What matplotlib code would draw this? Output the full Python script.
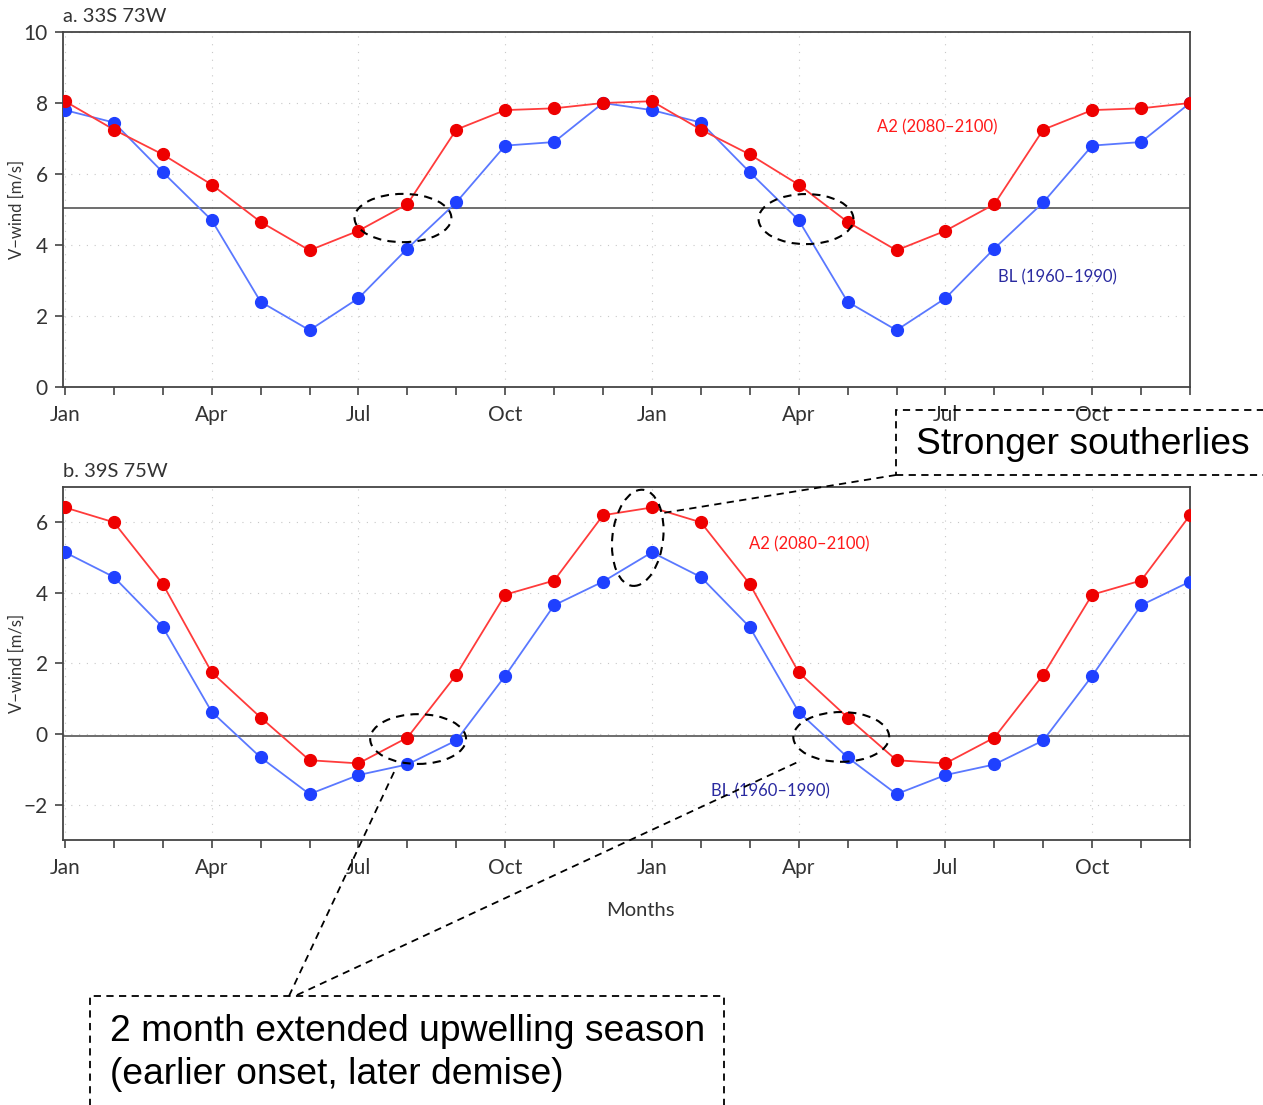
import numpy as np
import matplotlib
matplotlib.use("Agg")
import matplotlib.pyplot as plt
from matplotlib.patches import Ellipse, Rectangle
from matplotlib.lines import Line2D

W, H = 1263, 1105
plt.rcParams['font.family'] = ['Lato', 'DejaVu Sans']

months = np.arange(24)
tick_pos = [0, 3, 6, 9, 12, 15, 18, 21]
tick_lab = ["Jan", "Apr", "Jul", "Oct", "Jan", "Apr", "Jul", "Oct"]

# panel a: 33S 73W (one year, shown twice)
a2_a = [8.05, 7.25, 6.55, 5.7, 4.65, 3.85, 4.4, 5.15, 7.25, 7.8, 7.85, 8.0]
bl_a = [7.8, 7.45, 6.05, 4.7, 2.4, 1.6, 2.5, 3.9, 5.2, 6.8, 6.9, 8.0]
ref_a = 5.05
# panel b: 39S 75W
a2_b = [6.42, 6.0, 4.25, 1.75, 0.47, -0.74, -0.83, -0.1, 1.68, 3.95, 4.35, 6.2]
bl_b = [5.15, 4.45, 3.03, 0.63, -0.66, -1.7, -1.16, -0.86, -0.18, 1.65, 3.65, 4.32]
ref_b = -0.05

RED_L, RED_M = "#ff3b3b", "#ee0000"
BLU_L, BLU_M = "#5a78ff", "#1f40ff"
TXT = "#333333"


def px(x, y):
    return x / W, 1 - y / H


fig = plt.figure(figsize=(W / 100, H / 100), dpi=100)
ax_a = fig.add_axes([63 / W, 1 - 387 / H, 1127 / W, 355 / H])
ax_b = fig.add_axes([63 / W, 1 - 840 / H, 1127 / W, 353 / H])

for ax, a2, bl, ref, ylim, yt, title in [
        (ax_a, a2_a, bl_a, ref_a, (0, 10), [0, 2, 4, 6, 8, 10], "a. 33S 73W"),
        (ax_b, a2_b, bl_b, ref_b, (-3, 7), [-2, 0, 2, 4, 6], "b. 39S 75W")]:
    ax.grid(True, ls=(0, (1, 6)), color="#c8c8c8", lw=0.8)
    ax.axhline(ref, color="#555555", lw=1.2, zorder=2)
    ax.plot(months, bl * 2, color=BLU_L, lw=1.3, zorder=3)
    ax.plot(months, bl * 2, "o", color=BLU_M, ms=8.5, zorder=4)
    ax.plot(months, a2 * 2, color=RED_L, lw=1.3, zorder=3)
    ax.plot(months, a2 * 2, "o", color=RED_M, ms=8.5, zorder=4)
    ax.set_xlim(-0.04, 23)
    ax.set_ylim(*ylim)
    ax.set_yticks(yt)
    ax.set_yticklabels([str(v).replace("-", "\u2212") for v in yt])
    ax.set_xticks(months, minor=True)
    ax.set_xticks(tick_pos)
    ax.set_xticklabels(tick_lab)
    ax.tick_params(which="both", direction="out", length=6, width=1.2,
                   color="#444444", labelsize=15, labelcolor=TXT)
    ax.tick_params(axis="x", pad=7)
    ax.tick_params(axis="y", labelsize=15, pad=5)
    for s in ax.spines.values():
        s.set_color("#444444")
        s.set_linewidth(1.3)
    ax.set_ylabel("V\u2212wind [m/s]", fontsize=12, color=TXT)
    ax.yaxis.set_label_coords(-0.034, 0.5)
    ax.text(0.0, 1.02, title, transform=ax.transAxes, fontsize=14.5,
            color=TXT, ha="left", va="bottom")

ax_a.text(17.83, 7.3, "A2 (2080\u20132100)", color="#ff1a1a", fontsize=12,
          ha="center", va="center")
ax_a.text(20.3, 3.1, "BL (1960\u20131990)", color="#2a2aa0", fontsize=12,
          ha="center", va="center")
ax_b.text(15.21, 5.38, "A2 (2080\u20132100)", color="#ff1a1a", fontsize=12,
          ha="center", va="center")
ax_b.text(14.42, -1.63, "BL (1960\u20131990)", color="#2a2aa0", fontsize=12,
          ha="center", va="center")
fig.text(*px(640, 910), "Months", fontsize=14.5, color=TXT, ha="center",
         va="center")

# dashed ellipses round the onset / demise / peak points
dash = dict(fill=False, ec="black", lw=1.5, ls=(0, (4, 3)), clip_on=False,
            zorder=6)
ax_a.add_patch(Ellipse((6.91, 4.76), 1.98, 1.36, **dash))
ax_a.add_patch(Ellipse((15.15, 4.73), 1.94, 1.41, **dash))
ax_b.add_patch(Ellipse((7.22, -0.14), 1.96, 1.41, **dash))
ax_b.add_patch(Ellipse((15.87, -0.08), 1.96, 1.41, **dash))
ax_b.add_patch(Ellipse((11.71, 5.56), 1.04, 2.73, angle=-4, **dash))

# annotation boxes and leader lines (figure pixels)
box = dict(fill=False, ec="black", lw=1.3, ls=(0, (4, 3)), clip_on=False,
           transform=fig.transFigure)
x0, y0 = px(896, 475)
fig.patches.append(Rectangle((x0, y0), 400 / W, 65 / H, **box))
x0, y0 = px(90, 1120)
fig.patches.append(Rectangle((x0, y0), 634 / W, 124 / H, **box))
for (xa, ya), (xb, yb) in [((896, 475), (663, 513)),
                           ((289, 996), (395, 770)),
                           ((297, 995), (800, 761))]:
    p0, p1 = px(xa, ya), px(xb, yb)
    fig.lines.append(Line2D([p0[0], p1[0]], [p0[1], p1[1]],
                            transform=fig.transFigure, color="black", lw=1.3,
                            ls=(0, (4, 3))))

fig.text(*px(1083, 444), "Stronger southerlies", fontsize=26.8,
         family="Liberation Sans", ha="center", va="center")
fig.text(*px(110, 1053), "2 month extended upwelling season\n"
         "(earlier onset, later demise)", fontsize=26.8,
         family="Liberation Sans", ha="left", va="center", linespacing=1.33)

fig.savefig("out.png", dpi=100)
